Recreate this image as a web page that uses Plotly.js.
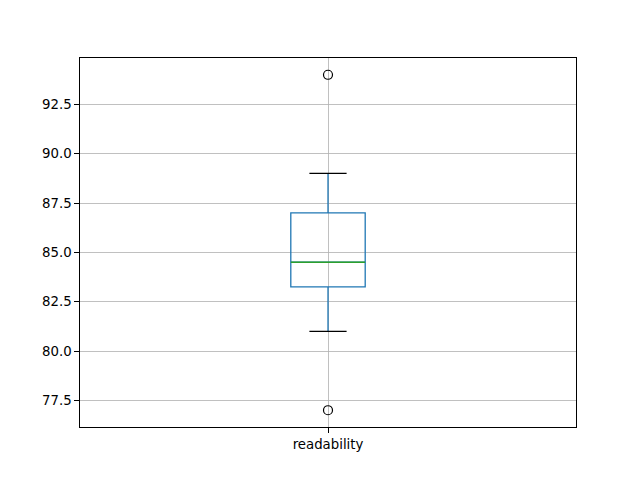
<!DOCTYPE html>
<html>
<head>
<meta charset="utf-8">
<script src="https://cdn.plot.ly/plotly-3.0.1.min.js"></script>
<style>html,body{margin:0;padding:0;background:#fff;}#chart{width:640px;height:480px;}</style>
</head>
<body>
<div id="chart"></div>
<script>
// Data
const categories = ['readability'];
const q1Values = [83.25];
const medianValues = [84.5];
const q3Values = [87.0];
const lowerWhisker = [81.0];
const upperWhisker = [89.0];
const outlierValues = [94.0, 77.0];
const yTickValues = [77.5, 80.0, 82.5, 85.0, 87.5, 90.0, 92.5];

const pos = 1;            // box position on the numeric axis
const boxWidth = 0.15;    // matplotlib default width for a single box
const capHalf = boxWidth / 4;
const medHalf = boxWidth / 2;

const blue = '#1f77b4';
const traces = [
  {
    type: 'box',
    x: [pos],
    q1: q1Values, median: medianValues, q3: q3Values,
    lowerfence: lowerWhisker, upperfence: upperWhisker,
    width: boxWidth,
    whiskerwidth: 0,
    fillcolor: 'rgba(0,0,0,0)',
    line: {color: blue, width: 1.3},
    boxpoints: false,
    hoverinfo: 'skip',
    showlegend: false
  },
  // median line (green)
  {
    type: 'scatter', mode: 'lines',
    x: [pos - medHalf, pos + medHalf],
    y: [medianValues[0], medianValues[0]],
    line: {color: '#2ca02c', width: 1.3},
    hoverinfo: 'skip', showlegend: false
  },
  // caps (black)
  {
    type: 'scatter', mode: 'lines',
    x: [pos - capHalf, pos + capHalf, null, pos - capHalf, pos + capHalf],
    y: [upperWhisker[0], upperWhisker[0], null, lowerWhisker[0], lowerWhisker[0]],
    line: {color: '#000000', width: 1.3},
    hoverinfo: 'skip', showlegend: false
  },
  // outliers
  {
    type: 'scatter', mode: 'markers',
    x: outlierValues.map(() => pos),
    y: outlierValues,
    marker: {symbol: 'circle-open', size: 9, color: '#000000', line: {width: 1.2, color: '#000000'}},
    hoverinfo: 'skip', showlegend: false
  }
];

const allY = outlierValues.concat(lowerWhisker, upperWhisker);
const yMin = Math.min(...allY), yMax = Math.max(...allY);
const pad = (yMax - yMin) * 0.05;

const font = {family: 'DejaVu Sans', size: 13.3, color: '#000'};
const layout = {
  width: 640, height: 480,
  margin: {l: 80, r: 64, t: 58, b: 53, pad: 0},
  paper_bgcolor: '#fff', plot_bgcolor: '#fff',
  font: font,
  showlegend: false,
  xaxis: {
    range: [pos - 0.5, pos + 0.5],
    tickmode: 'array', tickvals: [pos], ticktext: categories,
    showgrid: true, gridcolor: '#b0b0b0', gridwidth: 0.8,
    zeroline: false,
    showline: true, linecolor: '#000', linewidth: 1, mirror: true,
    ticks: 'outside', ticklen: 4.7, tickwidth: 1, tickcolor: '#000',
    tickfont: font
  },
  yaxis: {
    range: [yMin - pad, yMax + pad],
    tickmode: 'array', tickvals: yTickValues,
    ticktext: yTickValues.map(v => v.toFixed(1)),
    showgrid: true, gridcolor: '#b0b0b0', gridwidth: 0.8,
    zeroline: false,
    showline: true, linecolor: '#000', linewidth: 1, mirror: true,
    ticks: 'outside', ticklen: 4.7, tickwidth: 1, tickcolor: '#000',
    tickfont: font
  }
};

Plotly.newPlot('chart', traces, layout, {displayModeBar: false, staticPlot: true});
</script>
</body>
</html>
